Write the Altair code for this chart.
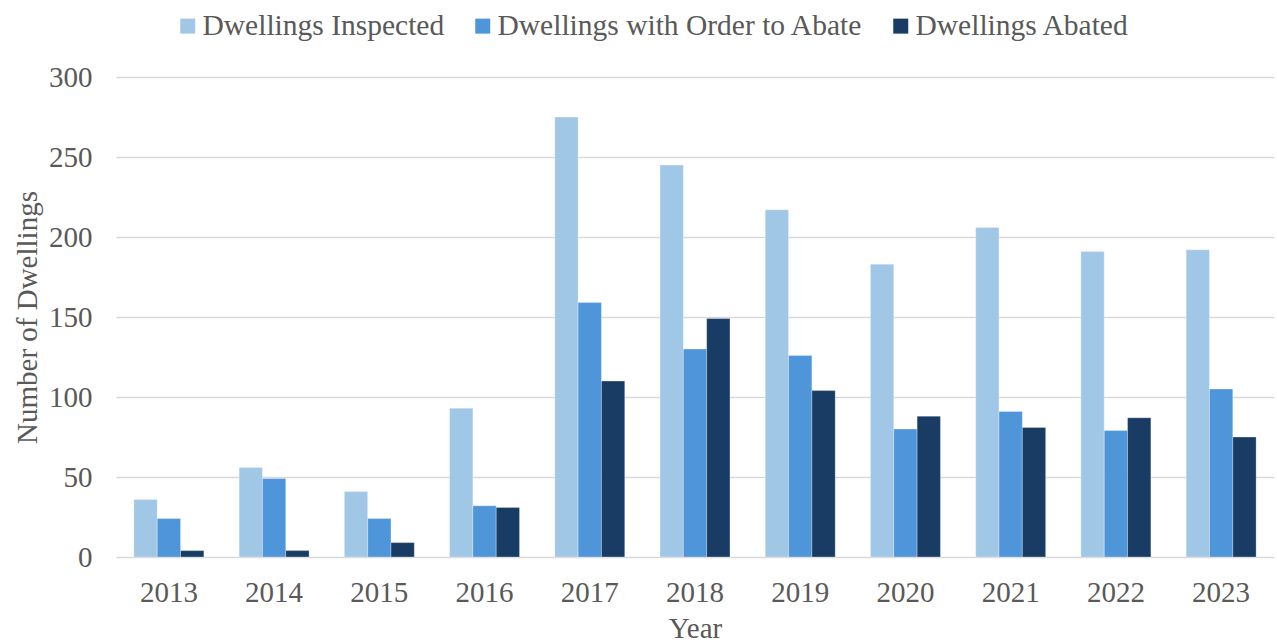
import altair as alt
import pandas as pd

years = ["2013", "2014", "2015", "2016", "2017", "2018", "2019", "2020", "2021", "2022", "2023"]
series = ["Dwellings Inspected", "Dwellings with Order to Abate", "Dwellings Abated"]
inspected = [36, 56, 41, 93, 275, 245, 217, 183, 206, 191, 192]
order_to_abate = [24, 49, 24, 32, 159, 130, 126, 80, 91, 79, 105]
abated = [4, 4, 9, 31, 110, 149, 104, 88, 81, 87, 75]
colors = ["#A1C7E7", "#4F95DA", "#183C64"]

rows = []
for name, vals in zip(series, [inspected, order_to_abate, abated]):
    for y, v in zip(years, vals):
        rows.append({"Year": y, "Series": name, "Value": v})
df = pd.DataFrame(rows)

FONT = "Liberation Serif"
TXT = "#595959"

chart = alt.Chart(df).mark_bar(stroke="white", strokeWidth=0.6, strokeOpacity=0.5).encode(
    x=alt.X("Year:N", sort=years,
            scale=alt.Scale(paddingInner=0.335, paddingOuter=0.17),
            axis=alt.Axis(title="Year", labelAngle=0, ticks=False, tickSize=0, domain=False,
                          labelPadding=44, labelBaseline="alphabetic",
                          titleBaseline="alphabetic", titleY=80, titleFontWeight="normal")),
    xOffset=alt.XOffset("Series:N", sort=series),
    y=alt.Y("Value:Q", scale=alt.Scale(domain=[0, 300], nice=False),
            axis=alt.Axis(title="Number of Dwellings", values=[0, 50, 100, 150, 200, 250, 300],
                          ticks=False, tickSize=0, domain=False, labelPadding=24,
                          titleAngle=-90, titleBaseline="alphabetic", titleX=-80, titleY=240,
                          titleAlign="center", titleFontWeight="normal")),
    color=alt.Color("Series:N", sort=series,
                    scale=alt.Scale(domain=series, range=colors),
                    legend=alt.Legend(title=None, orient="none", direction="horizontal",
                                      legendX=57, legendY=-66, padding=0,
                                      symbolType="square", symbolSize=225, symbolStrokeWidth=0,
                                      labelOffset=0, columnPadding=23,
                                      labelFontSize=29.5, labelFont=FONT, labelColor=TXT,
                                      labelLimit=0)),
).properties(
    width=1158, height=480,
    autosize=alt.AutoSizeParams(type="none"),
    padding={"left": 116, "top": 77, "right": 3, "bottom": 87},
).configure_axis(
    labelFont=FONT, titleFont=FONT, labelFontSize=29, titleFontSize=29,
    labelColor=TXT, titleColor=TXT,
    gridColor="#D9D9D9", gridWidth=1.5,
).configure_axisX(grid=False).configure_legend(
    labelFont=FONT, labelFontSize=29.5, labelColor=TXT,
).configure_view(stroke=None)

chart.save("out.html", embed_options={"renderer": "svg", "actions": False})
